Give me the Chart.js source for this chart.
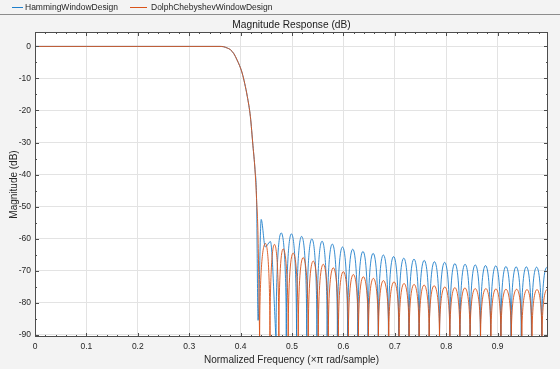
<!DOCTYPE html>
<html>
<head>
<meta charset="utf-8">
<script src="https://cdn.jsdelivr.net/npm/chart.js@4/dist/chart.umd.min.js"></script>
<style>
  html, body { margin: 0; padding: 0; background: #f3f3f3; }
  canvas { display: block; }
</style>
</head>
<body>
<canvas id="resp" width="560" height="369"></canvas>
<script>
// passband + transition, both designs overlap here
const passFreq = [0, 0.1, 0.2, 0.3, 0.36, 0.367, 0.374, 0.380, 0.387, 0.393, 0.398, 0.403, 0.408, 0.413, 0.419, 0.424, 0.428, 0.431];
const passDb = [0, 0, 0, 0, 0, -0.1, -0.5, -1.0, -2.3, -4.2, -6.0, -8.3, -11.6, -15.6, -21.9, -31.0, -38.5, -47.5];

// edge of the stopband, where the shapes differ
const hammingEdgeFreq = [0.434, 0.440, 0.448, 0.458, 0.469];
const hammingEdgeDb = [-85.5, -54.0, -62.6, -60.9, -92];
const dolphEdgeFreq = [0.434, 0.437];
const dolphEdgeDb = [-60, -92];

// sidelobe peaks
const hammingPeakFreq = [0.4790, 0.4989, 0.5187, 0.5386, 0.5585, 0.5784, 0.5982, 0.6181, 0.6380, 0.6578, 0.6777, 0.6976, 0.7174, 0.7373, 0.7572, 0.7771, 0.7969, 0.8168, 0.8367, 0.8565, 0.8764, 0.8963, 0.9161, 0.9360, 0.9559, 0.9758, 0.9956];
const hammingPeakDb = [-58.2, -58.5, -59.3, -60.1, -60.8, -61.7, -62.6, -63.3, -64.0, -64.6, -65.1, -65.6, -66.1, -66.4, -66.8, -67.2, -67.4, -67.8, -68.0, -68.2, -68.4, -68.5, -68.7, -68.8, -68.8, -68.9, -69.0];
const hammingNullFreq = [0.4889, 0.5088, 0.5287, 0.5485, 0.5684, 0.5883, 0.6082, 0.6280, 0.6479, 0.6678, 0.6876, 0.7075, 0.7274, 0.7472, 0.7671, 0.7870, 0.8069, 0.8267, 0.8466, 0.8665, 0.8863, 0.9062, 0.9261, 0.9460, 0.9658, 0.9857];

const dolphPeakFreq = [0.4483, 0.4659, 0.4828, 0.5023, 0.5218, 0.5413, 0.5608, 0.5803, 0.5998, 0.6193, 0.6388, 0.6583, 0.6778, 0.6985, 0.7180, 0.7375, 0.7570, 0.7765, 0.7973, 0.8168, 0.8363, 0.8564, 0.8772, 0.8967, 0.9162, 0.9370, 0.9571, 0.9766, 0.9961];
const dolphPeakDb = [-61.5, -61.8, -63.2, -64.5, -65.9, -67.0, -68.0, -69.1, -70.3, -71.2, -71.9, -72.4, -73.1, -73.5, -74.0, -74.3, -74.5, -74.7, -75.1, -75.3, -75.4, -75.6, -75.6, -75.7, -75.8, -75.8, -75.9, -75.9, -75.9];
const dolphNullFreq = [0.4571, 0.4744, 0.4926, 0.5121, 0.5316, 0.5511, 0.5706, 0.5901, 0.6096, 0.6291, 0.6486, 0.6681, 0.6882, 0.7083, 0.7278, 0.7473, 0.7668, 0.7869, 0.8071, 0.8266, 0.8464, 0.8668, 0.8870, 0.9065, 0.9266, 0.9471, 0.9669, 0.9864];

const nullDb = -92; // nulls dive below the bottom of the axes
const endFreq = 0.998;
const hammingEndDb = -69.3;
const dolphEndDb = -76.0;

const xTicks = [0, 0.1, 0.2, 0.3, 0.4, 0.5, 0.6, 0.7, 0.8, 0.9];
const xTickLabels = ["0", "0.1", "0.2", "0.3", "0.4", "0.5", "0.6", "0.7", "0.8", "0.9"];
const yTicks = [0, -10, -20, -30, -40, -50, -60, -70, -80, -90];
const yTickLabels = ["0", "-10", "-20", "-30", "-40", "-50", "-60", "-70", "-80", "-90"];

const BLUE = "#1f7fcb";
const ORANGE = "#d95319";
const FONT = "'Liberation Sans', Arial, Helvetica, sans-serif";
const INK = "#262626";
const ARCH = 0.6; // handle length for the sidelobe arches

const pts = (xs, ys) => xs.map((x, i) => ({ x, y: ys[i] }));

function lobes(startFreq, peakF, peakDb, nullF, endDb) {
  const out = [{ x: startFreq, y: nullDb }];
  peakF.forEach((f, i) => {
    out.push({ x: f, y: peakDb[i] });
    if (i < nullF.length) out.push({ x: nullF[i], y: nullDb });
  });
  out.push({ x: endFreq, y: endDb });
  return out;
}

const hammingTrans = pts(passFreq, passDb).concat(pts(hammingEdgeFreq, hammingEdgeDb));
const dolphTrans = pts(passFreq, passDb).concat(pts(dolphEdgeFreq, dolphEdgeDb));
const hammingStop = lobes(hammingEdgeFreq[hammingEdgeFreq.length - 1], hammingPeakFreq, hammingPeakDb, hammingNullFreq, hammingEndDb);
const dolphStop = lobes(dolphEdgeFreq[dolphEdgeFreq.length - 1], dolphPeakFreq, dolphPeakDb, dolphNullFreq, dolphEndDb);

const crisp = (v) => Math.round(v) + 0.5;

// sidelobes: vertical handles at the nulls, flat handles at the peaks
const archPlugin = {
  id: "arches",
  beforeDatasetDraw(chart, { index, meta }) {
    const ds = chart.data.datasets[index];
    if (!ds.arches) return;
    meta.dataset.updateControlPoints(chart.chartArea, "x");
    const p = meta.data;
    p.forEach((pt, i) => {
      const prev = p[i - 1];
      const next = p[i + 1];
      if (ds.data[i].y === nullDb) {
        if (prev) { pt.cp1x = pt.x; pt.cp1y = pt.y + ARCH * (prev.y - pt.y); }
        if (next) { pt.cp2x = pt.x; pt.cp2y = pt.y + ARCH * (next.y - pt.y); }
      } else {
        if (prev) { pt.cp1x = pt.x - ARCH * (pt.x - prev.x); pt.cp1y = pt.y; }
        if (next) { pt.cp2x = pt.x + ARCH * (next.x - pt.x); pt.cp2y = pt.y; }
      }
    });
  },
};

const framePlugin = {
  id: "frame",
  beforeDraw(chart) {
    const { ctx, chartArea: a } = chart;
    ctx.save();
    ctx.fillStyle = "#fff";
    ctx.fillRect(a.left, a.top, a.right - a.left, a.bottom - a.top);
    ctx.restore();
  },
  afterDraw(chart) {
    const { ctx, chartArea: a, scales: { x, y } } = chart;
    ctx.save();

    // legend strip
    ctx.lineWidth = 1;
    ctx.strokeStyle = BLUE;
    ctx.beginPath(); ctx.moveTo(12, 7.5); ctx.lineTo(23, 7.5); ctx.stroke();
    ctx.strokeStyle = ORANGE;
    ctx.beginPath(); ctx.moveTo(130, 7.5); ctx.lineTo(147, 7.5); ctx.stroke();
    ctx.fillStyle = INK;
    ctx.font = `8.5px ${FONT}`;
    ctx.textBaseline = "middle";
    ctx.fillText("HammingWindowDesign", 25, 8);
    ctx.fillText("DolphChebyshevWindowDesign", 151, 8);
    ctx.strokeStyle = "#8c8c8c";
    ctx.beginPath(); ctx.moveTo(0, 14.5); ctx.lineTo(560, 14.5); ctx.stroke();

    // title
    ctx.font = `10.2px ${FONT}`;
    ctx.textAlign = "center";
    ctx.fillStyle = "#1a1a1a";
    ctx.fillText("Magnitude Response (dB)", (a.left + a.right) / 2, 25);

    // box and inward ticks
    ctx.strokeStyle = "#4d4d4d";
    ctx.strokeRect(crisp(a.left), crisp(a.top), Math.round(a.right - a.left) - 1, Math.round(a.bottom - a.top) - 1);
    ctx.beginPath();
    for (let v = 0; v <= x.max + 1e-9; v += 0.02) {
      const px = crisp(x.getPixelForValue(v));
      const major = xTicks.some((t) => Math.abs(t - v) < 1e-6);
      const len = major ? 4 : 2;
      ctx.moveTo(px, a.bottom); ctx.lineTo(px, a.bottom - len);
      ctx.moveTo(px, a.top); ctx.lineTo(px, a.top + len);
    }
    for (let v = 0; v >= y.min; v -= 5) {
      const py = crisp(y.getPixelForValue(v));
      const len = yTicks.includes(v) ? 4 : 2;
      ctx.moveTo(a.left, py); ctx.lineTo(a.left + len, py);
      ctx.moveTo(a.right, py); ctx.lineTo(a.right - len, py);
    }
    ctx.stroke();
    ctx.restore();
  },
};

new Chart(document.getElementById("resp"), {
  type: "line",
  data: {
    datasets: [
      { label: "DolphChebyshevWindowDesign", data: dolphTrans, borderColor: ORANGE, cubicInterpolationMode: "monotone", tension: 0.4, order: 0 },
      { label: "DolphChebyshevWindowDesign", data: dolphStop, borderColor: ORANGE, tension: 0.5, arches: true, order: 0 },
      { label: "HammingWindowDesign", data: hammingTrans, borderColor: BLUE, cubicInterpolationMode: "monotone", tension: 0.4, order: 1 },
      { label: "HammingWindowDesign", data: hammingStop, borderColor: BLUE, tension: 0.5, arches: true, order: 1 },
    ],
  },
  options: {
    responsive: false,
    animation: false,
    devicePixelRatio: 1,
    layout: { padding: { left: 0, top: 32, right: 12, bottom: 0 } },
    elements: { point: { radius: 0 }, line: { borderWidth: 0.9, fill: false } },
    plugins: { legend: { display: false }, title: { display: false }, tooltip: { enabled: false } },
    scales: {
      x: {
        type: "linear",
        min: 0,
        max: endFreq,
        afterFit: (s) => { s.height = 32; },
        afterBuildTicks: (s) => { s.ticks = xTicks.map((value) => ({ value })); },
        ticks: { callback: (v, i) => xTickLabels[i], autoSkip: false, maxRotation: 0, padding: 5, color: INK, font: { family: FONT, size: 8.5 } },
        grid: { color: "#e3e3e3", drawTicks: false },
        border: { display: false },
        title: { display: true, text: "Normalized Frequency (×π rad/sample)", color: INK, font: { family: FONT, size: 10 }, padding: { top: 0, bottom: 3 } },
      },
      y: {
        min: -90.7,
        max: 4.5,
        afterFit: (s) => { s.width = 35; },
        afterBuildTicks: (s) => { s.ticks = yTicks.map((value) => ({ value })); },
        ticks: { callback: (v, i) => yTickLabels[i], autoSkip: false, padding: 4, color: INK, font: { family: FONT, size: 8.5 } },
        grid: { color: "#e3e3e3", drawTicks: false },
        border: { display: false },
        title: { display: true, text: "Magnitude (dB)", color: INK, font: { family: FONT, size: 10 }, padding: { top: 8, bottom: 0 } },
      },
    },
  },
  plugins: [archPlugin, framePlugin],
});
</script>
</body>
</html>
